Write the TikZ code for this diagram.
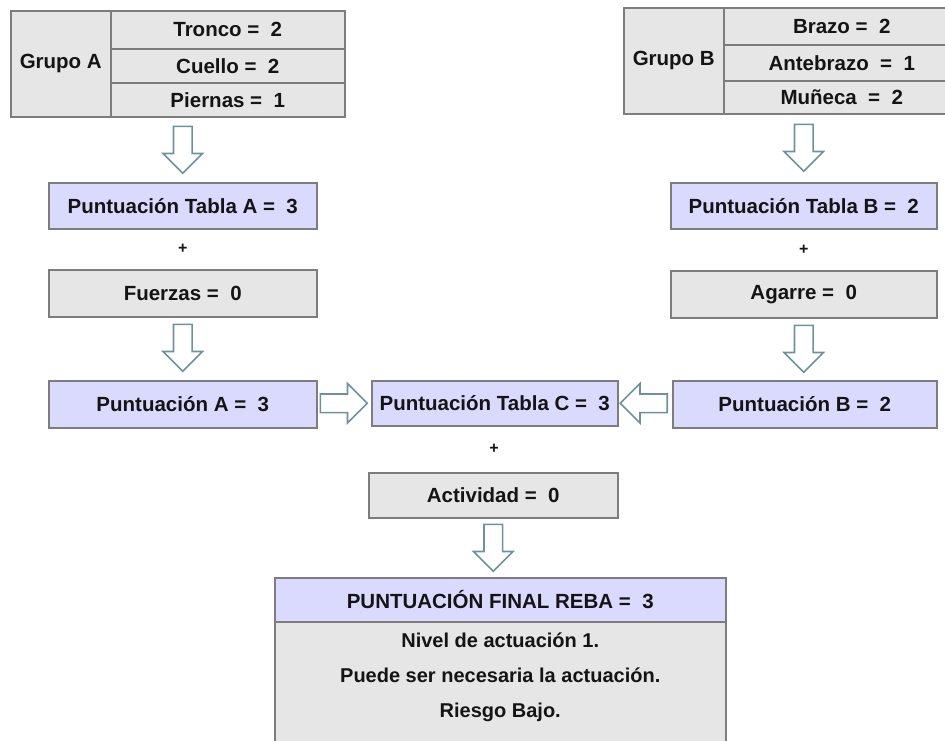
\documentclass[tikz,border=0pt]{standalone}
\usepackage{fontspec}
\setmainfont{Liberation Sans}
\usetikzlibrary{shapes.arrows,calc}
\definecolor{lav}{RGB}{218,218,254}
\definecolor{lgray}{RGB}{230,230,230}
\definecolor{edge}{RGB}{125,125,125}
\definecolor{arr}{RGB}{108,146,158}
\definecolor{ink}{RGB}{20,20,20}

\begin{document}
\begin{tikzpicture}[x=1pt,y=-1pt,
  box/.style={draw=edge, line width=1.5pt, inner sep=0pt, anchor=north west,
    text=ink, font=\fontsize{20.5}{24}\selectfont\bfseries},
  lavbox/.style={box, fill=lav},
  graybox/.style={box, fill=lgray},
  barrow/.style={single arrow, draw=arr, fill=white, line width=1.6pt,
    minimum height=47pt, single arrow head extend=10.5pt,
    inner xsep=0pt, inner ysep=8.5pt, single arrow tip angle=90, anchor=tail},
  plus/.style={inner sep=0pt, text=ink, font=\fontsize{16}{16}\selectfont\bfseries}]

\path[use as bounding box] (0,0) rectangle (945,740);
\clip (0,0) rectangle (945,740);

% Grupo A table
\node[graybox, minimum width=100pt, minimum height=106pt] (ga) at (10,10) {Grupo A};
\node[graybox, minimum width=234pt, minimum height=38pt] (ga1) at (110,10) {Tronco =\ \ 2};
\node[graybox, minimum width=234pt, minimum height=34pt] (ga2) at (110,48) {Cuello =\ \ 2};
\node[graybox, minimum width=234pt, minimum height=34pt] (ga3) at (110,82) {Piernas =\ \ 1};

% Grupo B table
\node[graybox, minimum width=100pt, minimum height=106pt] (gb) at (623,7) {Grupo B};
\node[graybox, minimum width=236pt, minimum height=37pt] (gb1) at (723,7) {Brazo =\ \ 2};
\node[graybox, minimum width=236pt, minimum height=36pt] (gb2) at (723,44) {Antebrazo\ \ =\ \ 1};
\node[graybox, minimum width=236pt, minimum height=33pt] (gb3) at (723,80) {Muñeca\ \ =\ \ 2};

% left column
\node[lavbox, minimum width=268pt, minimum height=46pt] (pta) at (48,182) {Puntuación Tabla A =\ \ 3};
\node[graybox, minimum width=268pt, minimum height=47pt] (fz) at (48,269) {Fuerzas =\ \ 0};
\node[lavbox, minimum width=268pt, minimum height=47pt] (pa) at (48,380) {Puntuación A =\ \ 3};

% right column
\node[lavbox, minimum width=266pt, minimum height=46pt] (ptb) at (670,182) {Puntuación Tabla B =\ \ 2};
\node[graybox, minimum width=266pt, minimum height=47pt] (ag) at (670,270) {Agarre =\ \ 0};
\node[lavbox, minimum width=264pt, minimum height=47pt] (pb) at (672,380) {Puntuación B =\ \ 2};

% centre column
\node[lavbox, minimum width=246pt, minimum height=45pt] (tc) at (371,380) {Puntuación Tabla C =\ \ 3};
\node[graybox, minimum width=249pt, minimum height=45pt] (act) at (368,472) {Actividad =\ \ 0};

% final score
\node[lavbox, minimum width=451pt, minimum height=44pt] (fh) at (274,577) {PUNTUACIÓN FINAL REBA =\ \ 3};
\node[graybox, minimum width=451pt, minimum height=150pt] (fb) at (274,621) {};
\node[inner sep=0pt, align=center, text=ink, font=\fontsize{20}{35}\selectfont\bfseries]
  (ft) at ($(fh.south)+(0,55)$) {Nivel de actuación 1.\\Puede ser necesaria la actuación.\\Riesgo Bajo.};

% plus signs
\node[plus] (p1) at ($(pta.south)!0.5!(fz.north)$) {+};
\node[plus] (p2) at ($(ptb.south)!0.5!(ag.north)$) {+};
\node[plus] (p3) at ($(tc.south)!0.5!(act.north)$) {+};

% block arrows, each starting just past the box it leaves
\node[barrow, rotate=-90] (a1) at ($(ga3.south -| pta.north)+(0,8)$) {};
\node[barrow, rotate=-90] (a2) at ($(fz.south)+(0,6)$) {};
\node[barrow, rotate=-90] (b1) at ($(gb3.south -| ptb.north)+(0,9)$) {};
\node[barrow, rotate=-90] (b2) at ($(ag.south)+(0,6)$) {};
\node[barrow] (c1) at ($(pa.east |- tc.west)+(2,0)$) {};
\node[barrow, rotate=180] (c2) at ($(pb.west |- tc.east)+(-4,0)$) {};
\node[barrow, rotate=-90] (d1) at ($(act.south)+(0,5)$) {};
\end{tikzpicture}
\end{document}
